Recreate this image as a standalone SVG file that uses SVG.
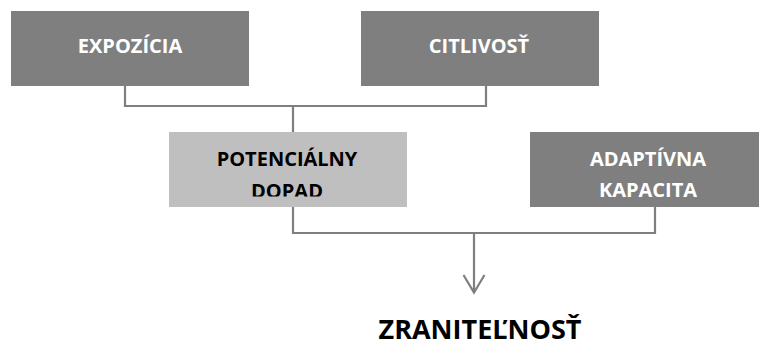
<svg xmlns="http://www.w3.org/2000/svg" width="759" height="339" viewBox="0 0 759 339">
<defs>
<style>
.dark{fill:#7f7f7f}
.light{fill:#bfbfbf}
.t{font-family:"Open Sans","Liberation Sans",sans-serif;font-weight:700;font-size:20px;text-anchor:middle}
.w{fill:#ffffff}
.k{fill:#000000}
.c{fill:none;stroke:#7f7f7f;stroke-width:2.2;stroke-linejoin:miter}
</style>
<clipPath id="cpd"><rect x="169" y="132" width="238" height="64.5"/></clipPath>
</defs>
<rect width="759" height="339" fill="#ffffff"/>
<g id="connectors">
<polyline class="c" points="125,86 125,106 486,106 486,86"/>
<line class="c" x1="293" y1="106" x2="293" y2="132"/>
<polyline class="c" points="293,207 293,233 655,233 655,207"/>
<line class="c" x1="474" y1="233" x2="474" y2="292"/>
<polyline class="c" points="463.5,275 474,292.5 484.5,275"/>
</g>
<g id="expozicia">
<rect class="dark" x="11" y="11" width="238" height="75"/>
<text class="t w" x="130" y="53">EXPOZÍCIA</text>
</g>
<g id="citlivost">
<rect class="dark" x="361" y="11" width="238" height="75"/>
<text class="t w" x="479" y="53">CITLIVOSŤ</text>
</g>
<g id="potencialny">
<rect class="light" x="169" y="132" width="238" height="75"/>
<g clip-path="url(#cpd)">
<text class="t k" x="287" y="166">POTENCIÁLNY</text>
<text class="t k" x="287" y="198">DOPAD</text>
</g>
</g>
<g id="adaptivna">
<rect class="dark" x="530" y="132" width="238" height="75"/>
<text class="t w" x="648" y="166">ADAPTÍVNA</text>
<text class="t w" x="648" y="197">KAPACITA</text>
</g>
<g id="zranitelnost">
<text class="t k" x="480" y="338.5" style="font-size:27px">ZRANITEĽNOSŤ</text>
</g>
</svg>
